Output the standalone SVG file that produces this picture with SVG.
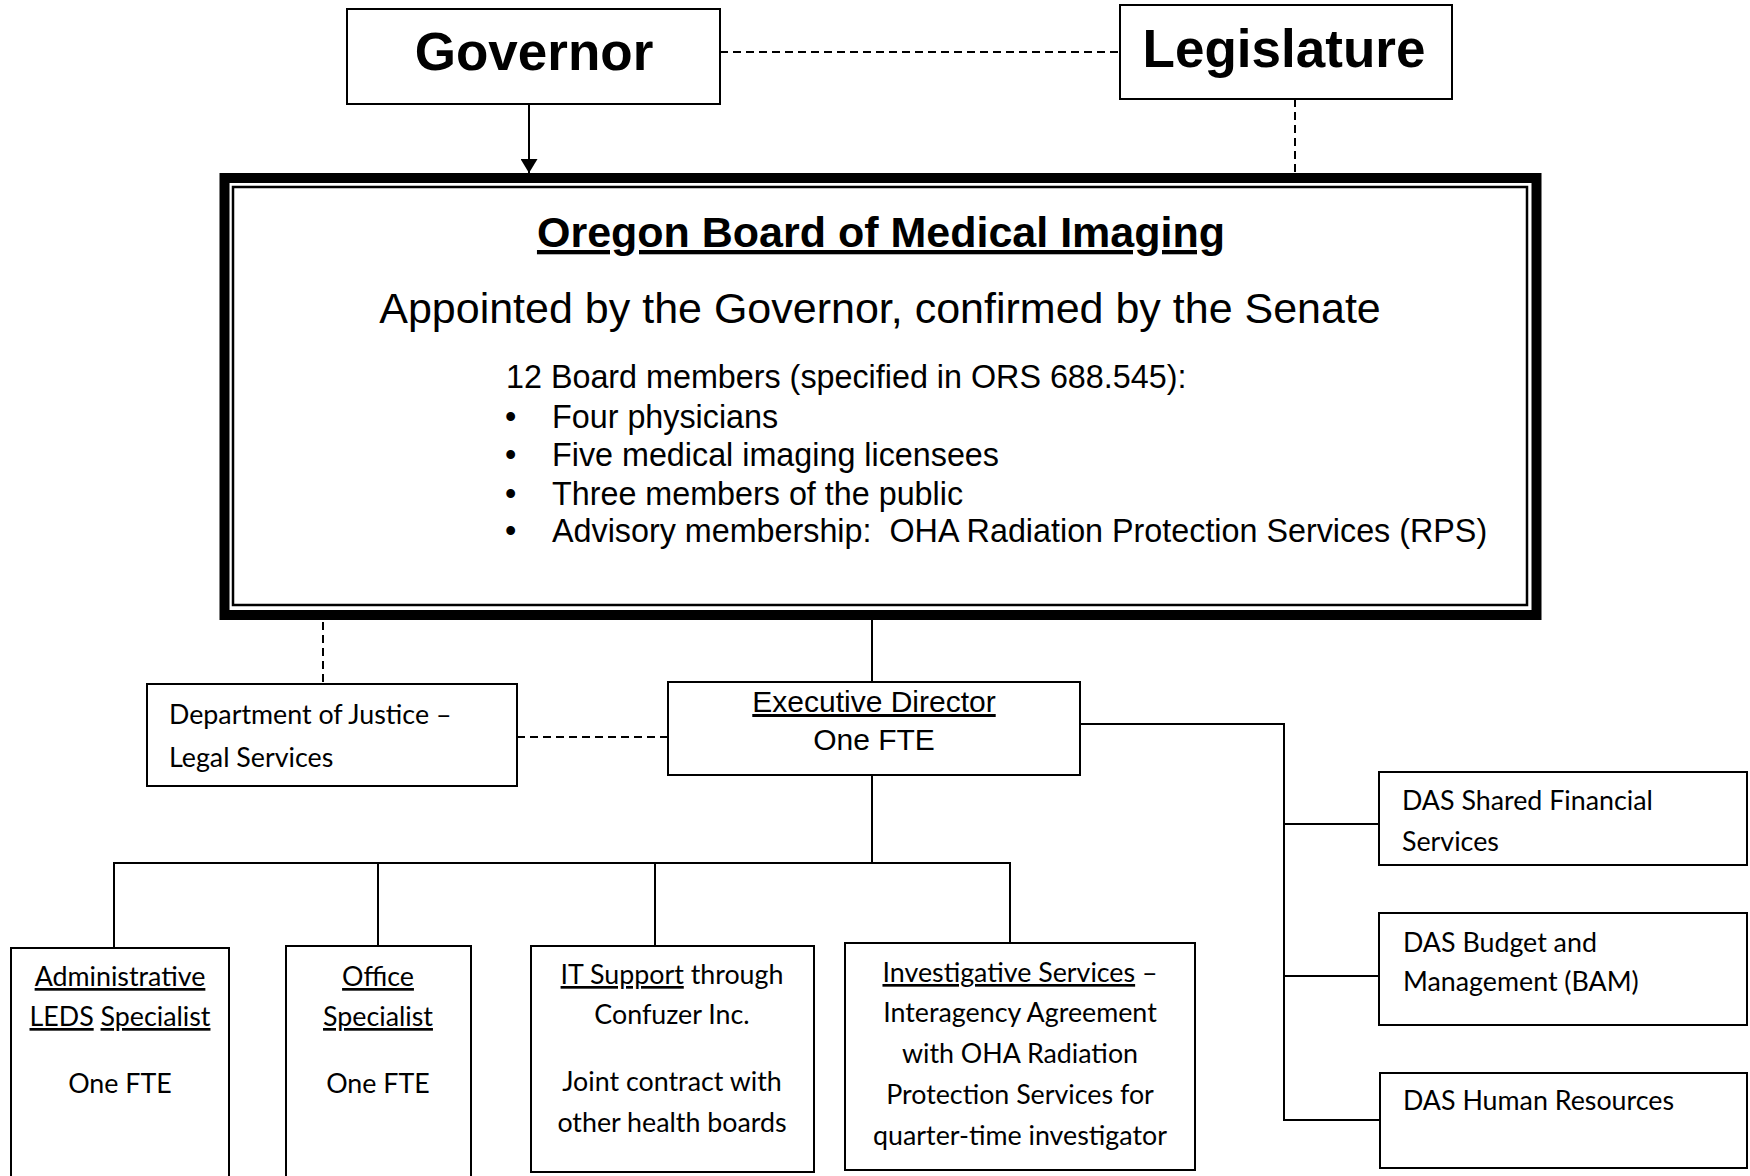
<svg xmlns="http://www.w3.org/2000/svg" width="1750" height="1176" viewBox="0 0 1750 1176">
<style>
.box{fill:#fff;stroke:#000;stroke-width:2}
.conn{fill:none;stroke:#000;stroke-width:2}
.dash{stroke-dasharray:8 5}
.ar{font-family:"Liberation Sans",Arial,sans-serif;fill:#000}
.cal{font-family:Lato,"Liberation Sans",sans-serif;font-size:26.8px;fill:#000}
.big{font-size:53px;font-weight:bold}
.u{text-decoration:underline}
.mid{text-anchor:middle}
</style>
<defs>
<marker id="arrow" viewBox="0 0 14 17" refX="14" refY="8.5" markerWidth="14" markerHeight="17" markerUnits="userSpaceOnUse" orient="auto">
<path d="M0,0 L14,8.5 L0,17 z" fill="#000"/>
</marker>
</defs>
<rect width="1750" height="1176" fill="#fff"/>
<g id="connectors">
<line class="conn dash" x1="720" y1="52" x2="1120" y2="52"/>
<line class="conn" x1="529" y1="104" x2="529" y2="173" marker-end="url(#arrow)"/>
<line class="conn dash" x1="1295" y1="99" x2="1295" y2="173"/>
<line class="conn" x1="872" y1="620" x2="872" y2="682"/>
<line class="conn dash" x1="323" y1="622" x2="323" y2="684"/>
<line class="conn dash" x1="517" y1="737" x2="668" y2="737"/>
<line class="conn" x1="872" y1="775" x2="872" y2="863"/>
<polyline class="conn" points="114,948 114,863 1010,863 1010,943"/>
<line class="conn" x1="378" y1="863" x2="378" y2="946"/>
<line class="conn" x1="655" y1="863" x2="655" y2="946"/>
<polyline class="conn" points="1080,724 1284,724 1284,1120 1380,1120"/>
<line class="conn" x1="1284" y1="824" x2="1379" y2="824"/>
<line class="conn" x1="1284" y1="976" x2="1379" y2="976"/>
</g>
<g id="governor">
<rect class="box" x="347" y="9" width="373" height="95"/>
<text class="ar big mid" x="534" y="70">Governor</text>
</g>
<g id="legislature">
<rect class="box" x="1120" y="5" width="332" height="94"/>
<text class="ar big mid" x="1284" y="67">Legislature</text>
</g>
<g id="board">
<rect x="224.5" y="178" width="1312" height="437" fill="#fff" stroke="#000" stroke-width="10"/>
<rect x="233" y="187" width="1294" height="418" fill="none" stroke="#000" stroke-width="2.5"/>
<text class="ar mid u" x="881" y="247" font-size="43" font-weight="bold">Oregon Board of Medical Imaging</text>
<text class="ar mid" x="880" y="323" font-size="43">Appointed by the Governor, confirmed by the Senate</text>
<text class="ar" x="506" y="388" font-size="32.3">12 Board members (specified in ORS 688.545):</text>
<g class="ar" font-size="32.3">
<text x="505" y="428">•</text>
<text x="552" y="428">Four physicians</text>
<text x="505" y="466">•</text>
<text x="552" y="466">Five medical imaging licensees</text>
<text x="505" y="505">•</text>
<text x="552" y="505">Three members of the public</text>
<text x="505" y="542">•</text>
<text x="552" y="542" xml:space="preserve">Advisory membership:  OHA Radiation Protection Services (RPS)</text>
</g>
</g>
<g id="doj">
<rect class="box" x="147" y="684" width="370" height="102"/>
<text class="cal" x="169" y="724">Department of Justice –</text>
<text class="cal" x="169" y="767">Legal Services</text>
</g>
<g id="exec">
<rect class="box" x="668" y="682" width="412" height="93"/>
<text class="ar mid u" x="874" y="712" font-size="30">Executive Director</text>
<text class="ar mid" x="874" y="750" font-size="30">One FTE</text>
</g>
<g id="admin">
<rect class="box" x="11" y="948" width="218" height="260"/>
<text class="cal mid u" x="120" y="986">Administrative</text>
<text class="cal mid" x="120" y="1026"><tspan class="u">LEDS</tspan> <tspan class="u">Specialist</tspan></text>
<text class="cal mid" x="120" y="1093">One FTE</text>
</g>
<g id="office">
<rect class="box" x="286" y="946" width="185" height="262"/>
<text class="cal mid u" x="378" y="986">Office</text>
<text class="cal mid u" x="378" y="1026">Specialist</text>
<text class="cal mid" x="378" y="1093">One FTE</text>
</g>
<g id="it">
<rect class="box" x="531" y="946" width="283" height="226"/>
<text class="cal mid" x="672" y="984"><tspan class="u">IT Support</tspan> through</text>
<text class="cal mid" x="672" y="1024">Confuzer Inc.</text>
<text class="cal mid" x="672" y="1091">Joint contract with</text>
<text class="cal mid" x="672" y="1132">other health boards</text>
</g>
<g id="investigative">
<rect class="box" x="845" y="943" width="350" height="227"/>
<text class="cal mid" x="1020" y="982"><tspan class="u">Investigative Services</tspan> –</text>
<text class="cal mid" x="1020" y="1022">Interagency Agreement</text>
<text class="cal mid" x="1020" y="1063">with OHA Radiation</text>
<text class="cal mid" x="1020" y="1104">Protection Services for</text>
<text class="cal mid" x="1020" y="1145">quarter-time investigator</text>
</g>
<g id="das-finance">
<rect class="box" x="1379" y="772" width="368" height="93"/>
<text class="cal" x="1402" y="810">DAS Shared Financial</text>
<text class="cal" x="1402" y="851">Services</text>
</g>
<g id="das-budget">
<rect class="box" x="1379" y="913" width="368" height="112"/>
<text class="cal" x="1403" y="952">DAS Budget and</text>
<text class="cal" x="1403" y="991">Management (BAM)</text>
</g>
<g id="das-hr">
<rect class="box" x="1380" y="1073" width="367" height="95"/>
<text class="cal" x="1403" y="1110">DAS Human Resources</text>
</g>
</svg>
